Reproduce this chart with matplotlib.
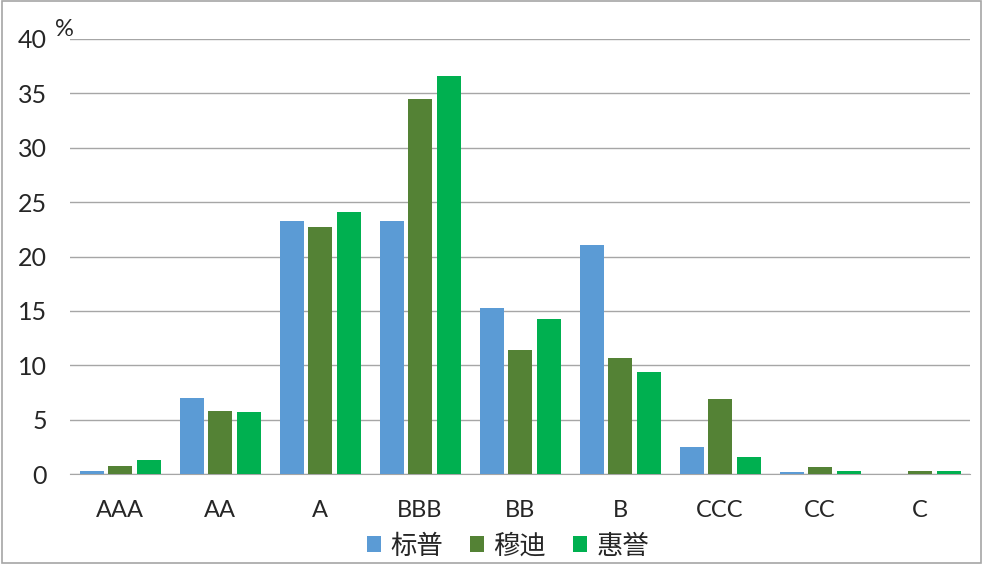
import numpy as np
import matplotlib.pyplot as plt
from matplotlib.patches import Patch, Rectangle

plt.rcParams['font.family'] = ['Lato', 'Noto Sans CJK SC', 'DejaVu Sans']

categories = ["AAA", "AA", "A", "BBB", "BB", "B", "CCC", "CC", "C"]
sp = [0.25, 7.0, 23.25, 23.25, 15.25, 21.05, 2.5, 0.15, 0.0]
moodys = [0.7, 5.8, 22.7, 34.5, 11.4, 10.65, 6.9, 0.6, 0.25]
fitch = [1.3, 5.7, 24.1, 36.6, 14.25, 9.35, 1.55, 0.25, 0.25]
series_names = ["标普", "穆迪", "惠誉"]
colors = ["#5B9BD5", "#548235", "#00B050"]

fig = plt.figure(figsize=(9.83, 5.64), dpi=100)
ax = fig.add_axes([70 / 983, 1 - 474 / 564, 900 / 983, 435 / 564])

x = np.arange(len(categories))
w = 0.24
off = 0.285
for i, vals in enumerate([sp, moodys, fitch]):
    ax.bar(x + (i - 1) * off, vals, width=w, color=colors[i], linewidth=0, zorder=3)

ax.set_xlim(-0.5, len(categories) - 0.5)
ax.set_ylim(0, 40)
ax.set_yticks(range(0, 41, 5))
ax.set_xticks(x)
ax.set_xticklabels(categories)
ax.yaxis.grid(True, color="#A6A6A6", linewidth=1)
ax.set_axisbelow(True)
for s in ["top", "right", "left"]:
    ax.spines[s].set_visible(False)
ax.spines["bottom"].set_color("#A6A6A6")
ax.tick_params(axis="both", length=0, colors="#262626")
ax.tick_params(axis="y", pad=16.5, labelsize=18)
ax.tick_params(axis="x", pad=19, labelsize=17)

fig.text(55 / 983, 1 - 30 / 564, "%", fontsize=17, color="#262626",
         ha="left", va="center")

handles = [Patch(facecolor=c) for c in colors]
fig.legend(handles, series_names, loc="center", bbox_to_anchor=(508 / 983, 1 - 546 / 564),
           ncol=3, frameon=False, fontsize=19, handlelength=0.55, handleheight=0.55,
           handletextpad=0.35, columnspacing=1.0, labelcolor="#262626")

fig.patches.append(Rectangle((0.002, 0.002), 0.996, 0.996, transform=fig.transFigure,
                             fill=False, edgecolor="#A6A6A6", linewidth=1.2))

fig.savefig("out.png", dpi=100)
